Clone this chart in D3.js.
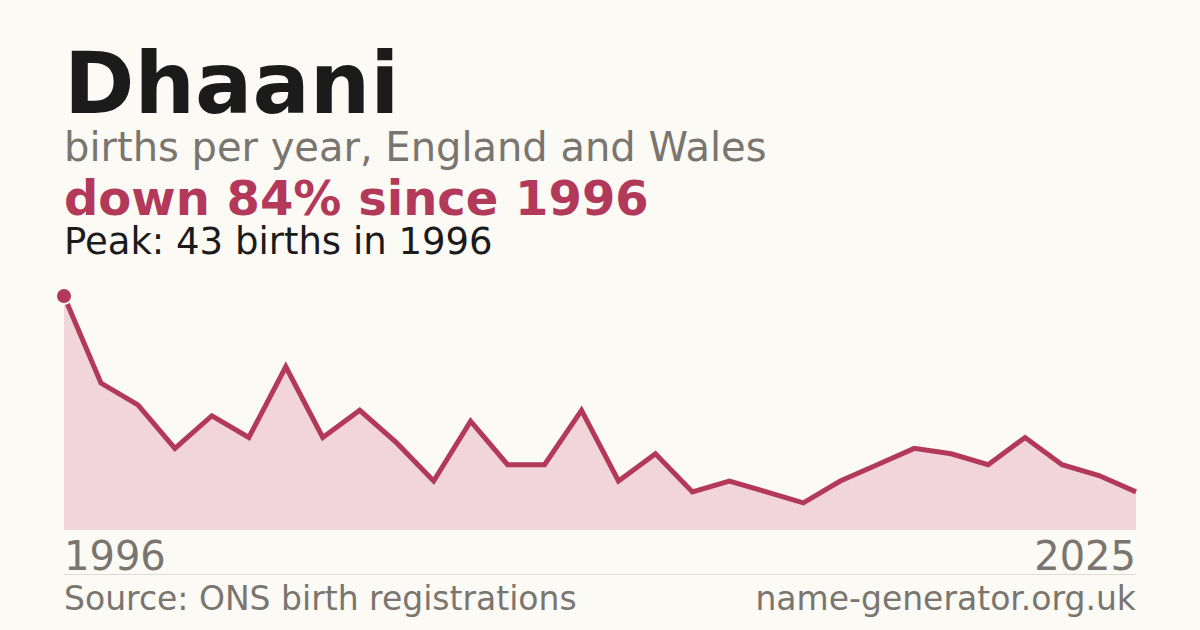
<!DOCTYPE html>
<html>
<head>
<meta charset="utf-8">
<script src="https://cdn.jsdelivr.net/npm/d3@7"></script>
<style>
  html, body { margin: 0; padding: 0; background: #fbfaf5; }
  svg { display: block; font-family: "DejaVu Sans", sans-serif; }
</style>
</head>
<body>
<script>
// data: births per year for the name
const years = d3.range(1996, 2026);
const births = [43, 27, 23, 15, 21, 17, 30, 17, 22, 16,
                9, 20, 12, 12, 22, 9, 14, 7, 9, 7,
                5, 9, 12, 15, 14, 12, 17, 12, 10, 7];
const axisLabels = ['1996', '2025'];

const width = 1200, height = 630;
const margin = {left: 64, right: 64};
const red = '#b3395a';
const grey = '#7a756e';

const svg = d3.select('body').append('svg')
  .attr('width', width).attr('height', height);

svg.append('rect').attr('width', width).attr('height', height).attr('fill', '#fbfaf5');

// header texts
svg.append('text').attr('x', 64).attr('y', 113)
  .attr('font-size', 85).attr('font-weight', 'bold').attr('fill', '#1b1b1b')
  .text('Dhaani');
svg.append('text').attr('x', 64).attr('y', 161)
  .attr('font-size', 40).attr('fill', grey)
  .text('births per year, England and Wales');
svg.append('text').attr('x', 64).attr('y', 215)
  .attr('font-size', 48).attr('font-weight', 'bold').attr('fill', red)
  .text('down 84% since 1996');
svg.append('text').attr('x', 64).attr('y', 254)
  .attr('font-size', 37).attr('fill', '#1b1b1b')
  .text('Peak: 43 births in 1996');

// scales
const x = d3.scaleLinear().domain([1996, 2025]).range([margin.left, width - margin.right]);
const y = d3.scaleLinear().domain([0, 43]).range([530, 296]);

const data = years.map((yr, i) => ({year: yr, value: births[i]}));

svg.append('path').datum(data)
  .attr('fill', '#f2d5db')
  .attr('d', d3.area().x(d => x(d.year)).y0(y(0)).y1(d => y(d.value)));

svg.append('path').datum(data)
  .attr('fill', 'none').attr('stroke', red).attr('stroke-width', 5)
  .attr('stroke-linejoin', 'miter')
  .attr('d', d3.line().x(d => x(d.year)).y(d => y(d.value)));

// peak marker
const peak = data[d3.maxIndex(data, d => d.value)];
svg.append('circle').attr('cx', x(peak.year)).attr('cy', y(peak.value))
  .attr('r', 8).attr('fill', red).attr('stroke', '#fbfaf5').attr('stroke-width', 2);

// x labels
svg.append('text').attr('x', x(1996)).attr('y', 570)
  .attr('font-size', 40).attr('fill', grey).text(axisLabels[0]);
svg.append('text').attr('x', x(2025)).attr('y', 570).attr('text-anchor', 'end')
  .attr('font-size', 40).attr('fill', grey).text(axisLabels[1]);

// separator
svg.append('line').attr('x1', 64).attr('x2', 1136).attr('y1', 574.5).attr('y2', 574.5)
  .attr('stroke', '#dedbd4').attr('stroke-width', 1);

// footer
svg.append('text').attr('x', 64).attr('y', 610)
  .attr('font-size', 33).attr('fill', grey).text('Source: ONS birth registrations');
svg.append('text').attr('x', 1136).attr('y', 610).attr('text-anchor', 'end')
  .attr('font-size', 33).attr('fill', grey).text('name-generator.org.uk');
</script>
</body>
</html>
